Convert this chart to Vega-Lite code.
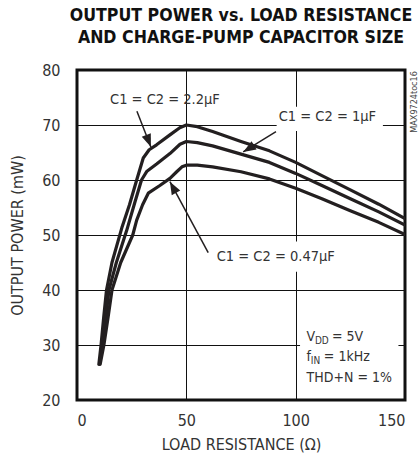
{
  "$schema": "https://vega.github.io/schema/vega-lite/v6.json",
  "autosize": {"type": "none"},
  "width": 328,
  "height": 330,
  "padding": {"left": 77, "top": 70, "right": 13, "bottom": 59},
  "background": "white",
  "config": {
    "font": "DejaVu Sans Condensed, Roboto Condensed, Roboto, sans-serif",
    "view": {"stroke": "#111", "strokeWidth": 3},
    "axis": {
      "grid": true, "gridColor": "#111", "gridWidth": 1, "gridOpacity": 1,
      "domain": false, "ticks": false, "tickSize": 0,
      "labelFont": "DejaVu Sans Condensed, Roboto Condensed, Roboto, sans-serif", "labelFontSize": 16, "labelColor": "#333",
      "titleFont": "DejaVu Sans Condensed, Roboto Condensed, Roboto, sans-serif", "titleFontSize": 16, "titleFontWeight": "normal", "titleColor": "#333"
    }
  },
  "title": {
    "text": ["OUTPUT POWER vs. LOAD RESISTANCE", "AND CHARGE-PUMP CAPACITOR SIZE"],
    "font": "DejaVu Sans Condensed, Roboto Condensed, Roboto, sans-serif", "fontSize": 17.6, "fontWeight": "bold", "color": "#111",
    "anchor": "middle", "frame": "group", "lineHeight": 22, "offset": 15
  },
  "datasets": {
    "curves": [
      {"c": "2.2", "r": 10, "p": 26.5}, {"c": "2.2", "r": 11, "p": 30}, {"c": "2.2", "r": 12.2, "p": 35}, {"c": "2.2", "r": 13.5, "p": 40}, {"c": "2.2", "r": 16, "p": 45}, {"c": "2.2", "r": 20.5, "p": 51.3}, {"c": "2.2", "r": 24, "p": 55.5}, {"c": "2.2", "r": 27.3, "p": 60}, {"c": "2.2", "r": 30.3, "p": 64.0}, {"c": "2.2", "r": 33, "p": 65.5}, {"c": "2.2", "r": 36.4, "p": 66.4}, {"c": "2.2", "r": 42.5, "p": 68.2}, {"c": "2.2", "r": 47, "p": 69.5}, {"c": "2.2", "r": 50, "p": 70}, {"c": "2.2", "r": 55, "p": 69.7}, {"c": "2.2", "r": 62, "p": 68.8}, {"c": "2.2", "r": 75, "p": 67.0}, {"c": "2.2", "r": 88, "p": 65.3}, {"c": "2.2", "r": 100, "p": 63.2}, {"c": "2.2", "r": 112, "p": 60.8}, {"c": "2.2", "r": 125, "p": 58.2}, {"c": "2.2", "r": 138, "p": 55.6}, {"c": "2.2", "r": 150, "p": 53},
      {"c": "1", "r": 10.3, "p": 26.5}, {"c": "1", "r": 11.7, "p": 30}, {"c": "1", "r": 13.2, "p": 35}, {"c": "1", "r": 14.6, "p": 40}, {"c": "1", "r": 18, "p": 45}, {"c": "1", "r": 22.7, "p": 50.8}, {"c": "1", "r": 26.5, "p": 56}, {"c": "1", "r": 29.5, "p": 60}, {"c": "1", "r": 32, "p": 61.6}, {"c": "1", "r": 36.4, "p": 62.9}, {"c": "1", "r": 42.5, "p": 64.8}, {"c": "1", "r": 47.1, "p": 66.5}, {"c": "1", "r": 50, "p": 67}, {"c": "1", "r": 55, "p": 66.8}, {"c": "1", "r": 62, "p": 66.2}, {"c": "1", "r": 75, "p": 64.7}, {"c": "1", "r": 88, "p": 63.2}, {"c": "1", "r": 100, "p": 61.2}, {"c": "1", "r": 112, "p": 59}, {"c": "1", "r": 125, "p": 56.6}, {"c": "1", "r": 138, "p": 54.2}, {"c": "1", "r": 150, "p": 51.8},
      {"c": "0.47", "r": 10.6, "p": 26.5}, {"c": "0.47", "r": 12.3, "p": 30}, {"c": "0.47", "r": 14.2, "p": 35}, {"c": "0.47", "r": 16, "p": 40}, {"c": "0.47", "r": 20, "p": 45}, {"c": "0.47", "r": 25.5, "p": 50}, {"c": "0.47", "r": 27.3, "p": 52.7}, {"c": "0.47", "r": 30, "p": 55.5}, {"c": "0.47", "r": 32.6, "p": 57.6}, {"c": "0.47", "r": 37.9, "p": 59.0}, {"c": "0.47", "r": 42.5, "p": 60.3}, {"c": "0.47", "r": 45.6, "p": 61.5}, {"c": "0.47", "r": 48, "p": 62.4}, {"c": "0.47", "r": 50, "p": 62.7}, {"c": "0.47", "r": 55, "p": 62.7}, {"c": "0.47", "r": 62, "p": 62.4}, {"c": "0.47", "r": 75, "p": 61.5}, {"c": "0.47", "r": 88, "p": 60.2}, {"c": "0.47", "r": 100, "p": 58.5}, {"c": "0.47", "r": 112, "p": 56.6}, {"c": "0.47", "r": 125, "p": 54.4}, {"c": "0.47", "r": 138, "p": 52.3}, {"c": "0.47", "r": 150, "p": 50.1}
    ],
    "boxes": [
      {"x1": 91.3, "x2": 139.9, "y1": 68.9, "y2": 73.3},
      {"x1": 62.2, "x2": 119.4, "y1": 43.3, "y2": 48.8},
      {"x1": 102, "x2": 147, "y1": 22, "y2": 33.6}
    ],
    "arrows": [
      {"id": "a", "x1": 27.4, "y1": 72.5, "x2": 33.8, "y2": 66.0},
      {"id": "b", "x1": 91.0, "y1": 68.8, "x2": 76.0, "y2": 65.1},
      {"id": "c", "x1": 60.0, "y1": 46.8, "x2": 42.5, "y2": 59.7}
    ],
    "labels": [
      {"t": "C1 = C2 = 2.2µF", "x": 40.2, "y": 74.5},
      {"t": "C1 = C2 = 1µF", "x": 114.5, "y": 71.45},
      {"t": "C1 = C2 = 0.47µF", "x": 90.9, "y": 46.05}
    ],
    "notes": [
      {"t": "V", "x": 105.0, "y": 31.5},
      {"t": "= 5V", "x": 116.6, "y": 31.5},
      {"t": "f", "x": 105.0, "y": 27.87},
      {"t": "= 1kHz", "x": 112.9, "y": 27.87},
      {"t": "THD+N = 1%", "x": 105.0, "y": 23.95}
    ],
    "subs": [
      {"t": "DD", "x": 108.8, "y": 31.5},
      {"t": "IN", "x": 106.9, "y": 27.87}
    ],
    "mark": [
      {"t": "MAX9724toc16", "x": 154.1, "y": 74.2}
    ]
  },
  "encoding": {
    "x": {"type": "quantitative", "scale": {"domain": [0, 150], "nice": false, "zero": false}},
    "y": {"type": "quantitative", "scale": {"domain": [20, 80], "nice": false, "zero": false}}
  },
  "layer": [
    {
      "data": {"name": "boxes"},
      "mark": {"type": "rect", "fill": "white"},
      "encoding": {
        "x": {"field": "x1", "type": "quantitative", "axis": {"values": [0, 50, 100, 150], "title": "LOAD RESISTANCE (Ω)", "labelPadding": 12, "titlePadding": 8}},
        "x2": {"field": "x2"},
        "y": {"field": "y1", "type": "quantitative", "axis": {"values": [20, 30, 40, 50, 60, 70, 80], "title": "OUTPUT POWER (mW)", "labelPadding": 17, "titlePadding": 16}},
        "y2": {"field": "y2"}
      }
    },
    {
      "data": {"name": "curves"},
      "mark": {"type": "line", "stroke": "#231f20", "strokeWidth": 3.2, "strokeJoin": "round", "strokeCap": "round", "clip": true},
      "encoding": {
        "x": {"field": "r", "type": "quantitative"},
        "y": {"field": "p", "type": "quantitative"},
        "detail": {"field": "c"}
      }
    },
    {
      "data": {"name": "arrows"},
      "mark": {"type": "rule", "stroke": "#231f20", "strokeWidth": 1.5},
      "encoding": {
        "x": {"field": "x1", "type": "quantitative"},
        "y": {"field": "y1", "type": "quantitative"},
        "x2": {"field": "x2"},
        "y2": {"field": "y2"}
      }
    },
    {
      "data": {"name": "arrows"},
      "transform": [{"filter": "datum.id === 'a'"}],
      "mark": {"type": "point", "shape": "M0,0L-0.38,1L0.38,1Z", "size": 650, "filled": true, "color": "#231f20", "opacity": 1, "angle": 158.8},
      "encoding": {"x": {"field": "x2", "type": "quantitative"}, "y": {"field": "y2", "type": "quantitative"}}
    },
    {
      "data": {"name": "arrows"},
      "transform": [{"filter": "datum.id === 'b'"}],
      "mark": {"type": "point", "shape": "M0,0L-0.38,1L0.38,1Z", "size": 650, "filled": true, "color": "#231f20", "opacity": 1, "angle": 238.5},
      "encoding": {"x": {"field": "x2", "type": "quantitative"}, "y": {"field": "y2", "type": "quantitative"}}
    },
    {
      "data": {"name": "arrows"},
      "transform": [{"filter": "datum.id === 'c'"}],
      "mark": {"type": "point", "shape": "M0,0L-0.38,1L0.38,1Z", "size": 650, "filled": true, "color": "#231f20", "opacity": 1, "angle": 331.6},
      "encoding": {"x": {"field": "x2", "type": "quantitative"}, "y": {"field": "y2", "type": "quantitative"}}
    },
    {
      "data": {"name": "labels"},
      "mark": {"type": "text", "fontSize": 14.5, "color": "#333", "align": "center", "baseline": "middle"},
      "encoding": {"x": {"field": "x", "type": "quantitative"}, "y": {"field": "y", "type": "quantitative"}, "text": {"field": "t"}}
    },
    {
      "data": {"name": "notes"},
      "mark": {"type": "text", "fontSize": 14, "color": "#333", "align": "left", "baseline": "middle"},
      "encoding": {"x": {"field": "x", "type": "quantitative"}, "y": {"field": "y", "type": "quantitative"}, "text": {"field": "t"}}
    },
    {
      "data": {"name": "subs"},
      "mark": {"type": "text", "fontSize": 10, "color": "#333", "align": "left", "baseline": "middle", "dy": 4},
      "encoding": {"x": {"field": "x", "type": "quantitative"}, "y": {"field": "y", "type": "quantitative"}, "text": {"field": "t"}}
    },
    {
      "data": {"name": "mark"},
      "mark": {"type": "text", "fontSize": 9, "color": "#444", "align": "center", "baseline": "middle", "angle": 270},
      "encoding": {"x": {"field": "x", "type": "quantitative"}, "y": {"field": "y", "type": "quantitative"}, "text": {"field": "t"}}
    }
  ]
}
